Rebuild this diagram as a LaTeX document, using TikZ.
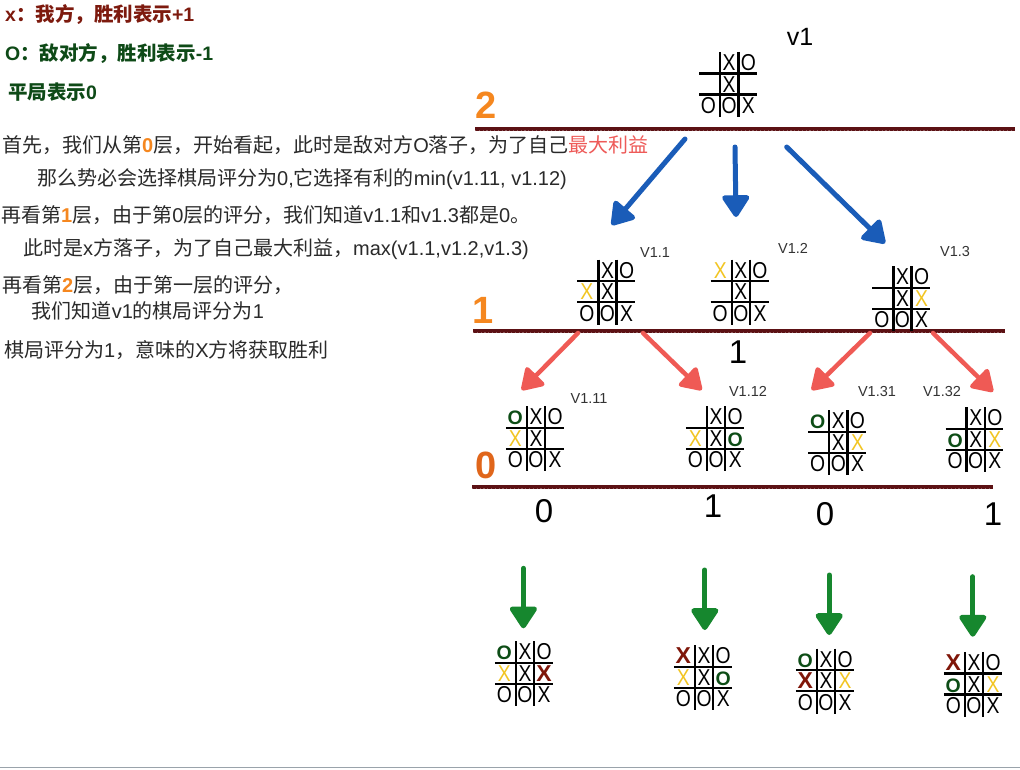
\documentclass[tikz,border=0pt]{standalone}
\usepackage{fontspec}
\usepackage{graphicx}
\setmainfont{Liberation Sans}
\newfontfamily\cjk{Noto Sans CJK SC}
\usetikzlibrary{arrows.meta}
\definecolor{bodyc}{HTML}{2A2A2A}
\definecolor{hred}{HTML}{7D1A0E}
\definecolor{hgrn}{HTML}{0E4A17}
\definecolor{ora}{HTML}{F5871F}
\definecolor{ora0}{HTML}{E0661B}
\definecolor{lred}{HTML}{EE5A58}
\definecolor{rough}{HTML}{5C1114}
\definecolor{arblue}{HTML}{1A5CB8}
\definecolor{arred}{HTML}{EF5A55}
\definecolor{argrn}{HTML}{16872E}
\definecolor{xyel}{HTML}{F2C522}
\definecolor{ogrn}{HTML}{0D4D16}
\definecolor{xred}{HTML}{7F1609}
\definecolor{labc}{HTML}{333333}
\definecolor{botc}{HTML}{9AA3AB}
\newcommand\zh[1]{{\cjk #1}}
\newcommand\narrow[1]{\scalebox{0.84}[1]{#1}}
\newcommand\mkX{\narrow{X}}
\newcommand\mkO{\narrow{O}}
\newcommand\mkY{\textcolor{xyel}{\narrow{X}}}
\newcommand\mkG{\textcolor{ogrn}{\fontsize{19.5}{19.5}\selectfont\bfseries O}}
\newcommand\mkR{\textcolor{xred}{\bfseries X}}
\newcommand\tttboard[4]{%
  \begin{scope}[shift={(#2,#3)}]
    \draw[gridln] (0,-21.5) -- (0,43.5) (18.3,-21.5) -- (18.3,43.5)
                  (-21,0) -- (36.8,0) (-21,21) -- (36.8,21);
    \foreach \r/\c/\s in {#4}{%
      \pgfmathsetmacro\cx{{-11.5,9.15,28.3}[\c-1]}%
      \pgfmathsetmacro\ry{{-11,10.5,32}[\r-1]}%
      \node[cellmk] (#1-\r-\c) at (\cx,\ry) {\csname mk\s\endcsname};
    }
  \end{scope}}
\begin{document}
\begin{tikzpicture}[x=1pt,y=-1pt,
  txt/.style={font=\fontsize{20}{24}\selectfont, text=bodyc, inner sep=0pt, anchor=base west},
  hdr/.style={font=\fontsize{19.5}{23}\selectfont\bfseries, inner sep=0pt, anchor=base west},
  lvl/.style={font=\fontsize{38}{38}\selectfont\bfseries, inner sep=0pt, anchor=base},
  score/.style={font=\fontsize{33}{33}\selectfont, inner sep=0pt, anchor=base},
  vlab/.style={font=\fontsize{14.5}{15}\selectfont, text=labc, inner sep=0pt, anchor=base},
  cellmk/.style={font=\fontsize{23}{23}\selectfont, inner sep=0pt, text height=16.5pt, text depth=0pt, anchor=center},
  gridln/.style={draw=black, line width=2.4pt},
  roughln/.style={draw=rough, line width=4.5pt},
  texture/.style={draw=white, line width=0.9pt, opacity=0.3, dash pattern=on 1.2pt off 2.6pt},
  barrow/.style={draw=arblue, line width=5pt, line cap=round, -{Triangle[width=30pt,length=24pt,round]}},
  rarrow/.style={draw=arred, line width=4.5pt, line cap=round, -{Triangle[width=28pt,length=23pt,round]}},
  garrow/.style={draw=argrn, line width=5pt, line cap=round, -{Triangle[width=30pt,length=24pt,round]}}
]
\useasboundingbox[fill=white] (0,0) rectangle (1020,769);

% ---------- legend ----------
\node[hdr, text=hred] (h1) at (5,21) {x\zh{：我方，胜利表示}+1};
\node[hdr, text=hgrn] (h2) at (5,60) {O\zh{：敌对方，胜利表示}-1};
\node[hdr, text=hgrn] (h3) at (8,99) {\zh{平局表示}0};

% ---------- explanation ----------
\node[txt] (t1) at (2,152.5) {\zh{首先，我们从第}{\bfseries\color{ora}0}\zh{层，开始看起，此时是敌对方}O\zh{落子，为了自己}{\color{lred}\zh{最大利益}}};
\node[txt] (t2) at (37,185.5) {\zh{那么势必会选择棋局评分为}0,\zh{它选择有利的}min(v1.11, v1.12)};
\node[txt] (t3) at (1,222.5) {\zh{再看第}{\bfseries\color{ora}1}\zh{层，由于第}0\zh{层的评分，我们知道}v1.1\zh{和}v1.3\zh{都是}0\zh{。}};
\node[txt] (t4) at (23,255.5) {\zh{此时是}x\zh{方落子，为了自己最大利益，}max(v1.1,v1.2,v1.3)};
\node[txt] (t5) at (2,292) {\zh{再看第}{\bfseries\color{ora}2}\zh{层，由于第一层的评分，}};
\node[txt] (t6) at (31.6,318.5) {\zh{我们知道}v1\zh{的棋局评分为}1};
\node[txt] (t7) at (4,357.5) {\zh{棋局评分为}1\zh{，意味的}X\zh{方将获取胜利}};

% ---------- level lines ----------
\coordinate (L2a) at (475,129); \coordinate (L2b) at (1015,129);
\coordinate (L1a) at (473,331); \coordinate (L1b) at (1005,331);
\coordinate (L0a) at (472,487); \coordinate (L0b) at (993,487);
\draw[roughln] (L2a) -- (L2b);
\draw[roughln] (L1a) -- (L1b);
\draw[roughln] (L0a) -- (L0b);
\draw[texture] ([yshift=-1.2pt]L2a) -- ([yshift=-1.2pt]L2b);
\draw[texture] ([yshift=-1.2pt]L1a) -- ([yshift=-1.2pt]L1b);
\draw[texture] ([yshift=-1.2pt]L0a) -- ([yshift=-1.2pt]L0b);

\node[lvl, text=ora] (lv2) at (486,118) {2};
\node[lvl, text=ora] (lv1) at (483,323) {1};
\node[lvl, text=ora0] (lv0) at (486,478) {0};

% ---------- boards ----------
\node[font=\fontsize{25}{25}\selectfont, inner sep=0pt, anchor=base] (v1) at (800,45) {v1};
\tttboard{top}{720}{73.3}{1/2/X,1/3/O,2/2/X,3/1/O,3/2/O,3/3/X}

\tttboard{b11}{598.3}{281}{1/2/X,1/3/O,2/1/Y,2/2/X,3/1/O,3/2/O,3/3/X}
\tttboard{b12}{731.7}{281}{1/1/Y,1/2/X,1/3/O,2/2/X,3/1/O,3/2/O,3/3/X}
\tttboard{b13}{893.3}{287.7}{1/2/X,1/3/O,2/2/X,2/3/Y,3/1/O,3/2/O,3/3/X}
\node[vlab] (lab11) at (655,257) {V1.1};
\node[vlab] (lab12) at (793,253) {V1.2};
\node[vlab] (lab13) at (955,256) {V1.3};

\tttboard{c111}{526.8}{427.7}{1/1/G,1/2/X,1/3/O,2/1/Y,2/2/X,3/1/O,3/2/O,3/3/X}
\tttboard{c112}{706.9}{427.7}{1/2/X,1/3/O,2/1/Y,2/2/X,2/3/G,3/1/O,3/2/O,3/3/X}
\tttboard{c131}{829.2}{431.7}{1/1/G,1/2/X,1/3/O,2/2/X,2/3/Y,3/1/O,3/2/O,3/3/X}
\tttboard{c132}{966.6}{428.7}{1/2/X,1/3/O,2/1/G,2/2/X,2/3/Y,3/1/O,3/2/O,3/3/X}
\node[vlab] (lab111) at (589,403.5) {V1.11};
\node[vlab] (lab112) at (748,396) {V1.12};
\node[vlab] (lab131) at (877,396) {V1.31};
\node[vlab] (lab132) at (942,396) {V1.32};

\tttboard{d1}{515.8}{662.7}{1/1/G,1/2/X,1/3/O,2/1/Y,2/2/X,2/3/R,3/1/O,3/2/O,3/3/X}
\tttboard{d2}{694.9}{666.7}{1/1/R,1/2/X,1/3/O,2/1/Y,2/2/X,2/3/G,3/1/O,3/2/O,3/3/X}
\tttboard{d3}{816.8}{670}{1/1/G,1/2/X,1/3/O,2/1/R,2/2/X,2/3/Y,3/1/O,3/2/O,3/3/X}
\tttboard{d4}{964.8}{673.3}{1/1/R,1/2/X,1/3/O,2/1/G,2/2/X,2/3/Y,3/1/O,3/2/O,3/3/X}

% ---------- scores ----------
\node[score] (s1) at (738,363) {1};
\node[score] (s11) at (544,522) {0};
\node[score] (s12) at (713,517) {1};
\node[score] (s31) at (825,525.5) {0};
\node[score] (s32) at (993,525.5) {1};

% ---------- arrows ----------
\coordinate (ba1) at (685,139);   \coordinate (ba2) at (611.7,225);
\coordinate (bb1) at (735,147);   \coordinate (bb2) at (736,217);
\coordinate (bc1) at (786.7,147); \coordinate (bc2) at (885,243.3);
\draw[barrow] (ba1) -- (ba2);
\draw[barrow] (bb1) -- (bb2);
\draw[barrow] (bc1) -- (bc2);

\coordinate (ra1) at (578,333);   \coordinate (ra2) at (521.7,390);
\coordinate (rb1) at (643,333);   \coordinate (rb2) at (701.7,390);
\coordinate (rc1) at (870,333);   \coordinate (rc2) at (811.7,390);
\coordinate (rd1) at (933,333);   \coordinate (rd2) at (993,391.7);
\draw[rarrow] (ra1) -- (ra2);
\draw[rarrow] (rb1) -- (rb2);
\draw[rarrow] (rc1) -- (rc2);
\draw[rarrow] (rd1) -- (rd2);

\coordinate (ga1) at (523.4,568.3); \coordinate (ga2) at (523.4,628.3);
\coordinate (gb1) at (704.8,570);   \coordinate (gb2) at (704.8,630);
\coordinate (gc1) at (829.2,575);   \coordinate (gc2) at (829.2,635);
\coordinate (gd1) at (972.8,576.7); \coordinate (gd2) at (972.8,636.7);
\draw[garrow] (ga1) -- (ga2);
\draw[garrow] (gb1) -- (gb2);
\draw[garrow] (gc1) -- (gc2);
\draw[garrow] (gd1) -- (gd2);

% ---------- bottom rule ----------
\coordinate (bl1) at (0,767.6); \coordinate (bl2) at (1020,767.6);
\draw[draw=botc, line width=1.6pt] (bl1) -- (bl2);
\end{tikzpicture}
\end{document}
